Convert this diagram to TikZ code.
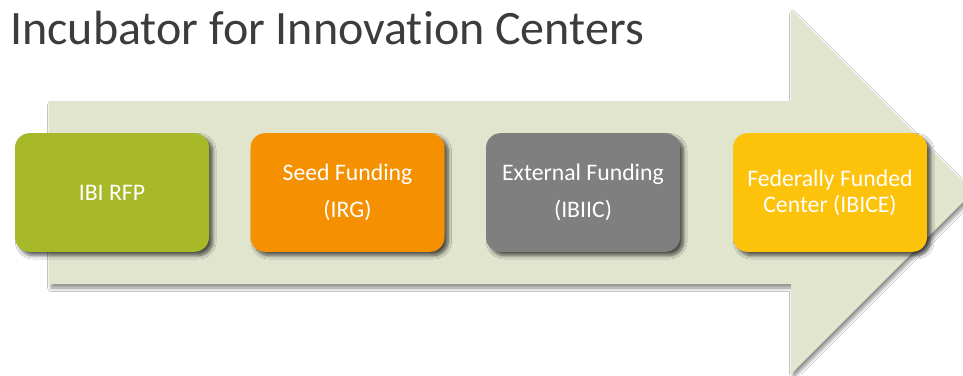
\documentclass[tikz,border=0pt]{standalone}
\usepackage{fontspec}
\setmainfont{Carlito}[Ligatures={NoCommon}]
\usetikzlibrary{shadows.blur}
\definecolor{arrowfill}{HTML}{E1E5CE}
\definecolor{stagegreen}{HTML}{A7B829}
\definecolor{stageorange}{HTML}{F59100}
\definecolor{stagegray}{HTML}{7F7F7F}
\definecolor{stageyellow}{HTML}{FDC20A}
\definecolor{titlegray}{HTML}{3C3C3C}
\tikzset{
  stagebox/.style={rounded corners=11pt, minimum width=145.5pt, minimum height=89pt,
    inner sep=0pt, align=center, text=white,
    blur shadow={shadow xshift=2.8pt, shadow yshift=-2.8pt, shadow blur steps=8,
      shadow blur radius=2.6pt, shadow opacity=65}},
  widelines/.style={font=\fontsize{17.8}{27.5}\selectfont},
  tightlines/.style={font=\fontsize{17.8}{19.5}\selectfont},
}
\begin{document}
\begin{tikzpicture}[x=0.75pt,y=-0.75pt]
\useasboundingbox (0,0) rectangle (963,375);
\clip (0,0) rectangle (963,375);
\fill[white] (0,0) rectangle (963,375);
% large process arrow
\path[fill=arrowfill, blur shadow={shadow xshift=1.5pt, shadow yshift=-3pt,
      shadow blur steps=8, shadow blur radius=2.5pt, shadow opacity=45}]
  (49,101) -- (791,101) -- (791,10) -- (973,192) -- (791,374) -- (791,284)
  -- (49,284) -- cycle;
% title
\node[anchor=base west, inner sep=0pt, text=titlegray,
      font=\fontsize{36}{42}\selectfont] (title) at (10,44)
  {Incubator for Innovation Centers};
% stages
\node[stagebox, fill=stagegreen, font=\fontsize{17.8}{20}\selectfont]
  (rfp) at (112,192.5) {IBI RFP};
\node[stagebox, fill=stageorange, widelines]
  (seed) at (347.5,192.5) {Seed Funding\\(IRG)};
\node[stagebox, fill=stagegray, widelines]
  (ext) at (583,192.5) {External Funding\\(IBIIC)};
\node[stagebox, fill=stageyellow, tightlines]
  (fed) at (830,192.5) {Federally Funded\\Center (IBICE)};
\end{tikzpicture}
\end{document}
